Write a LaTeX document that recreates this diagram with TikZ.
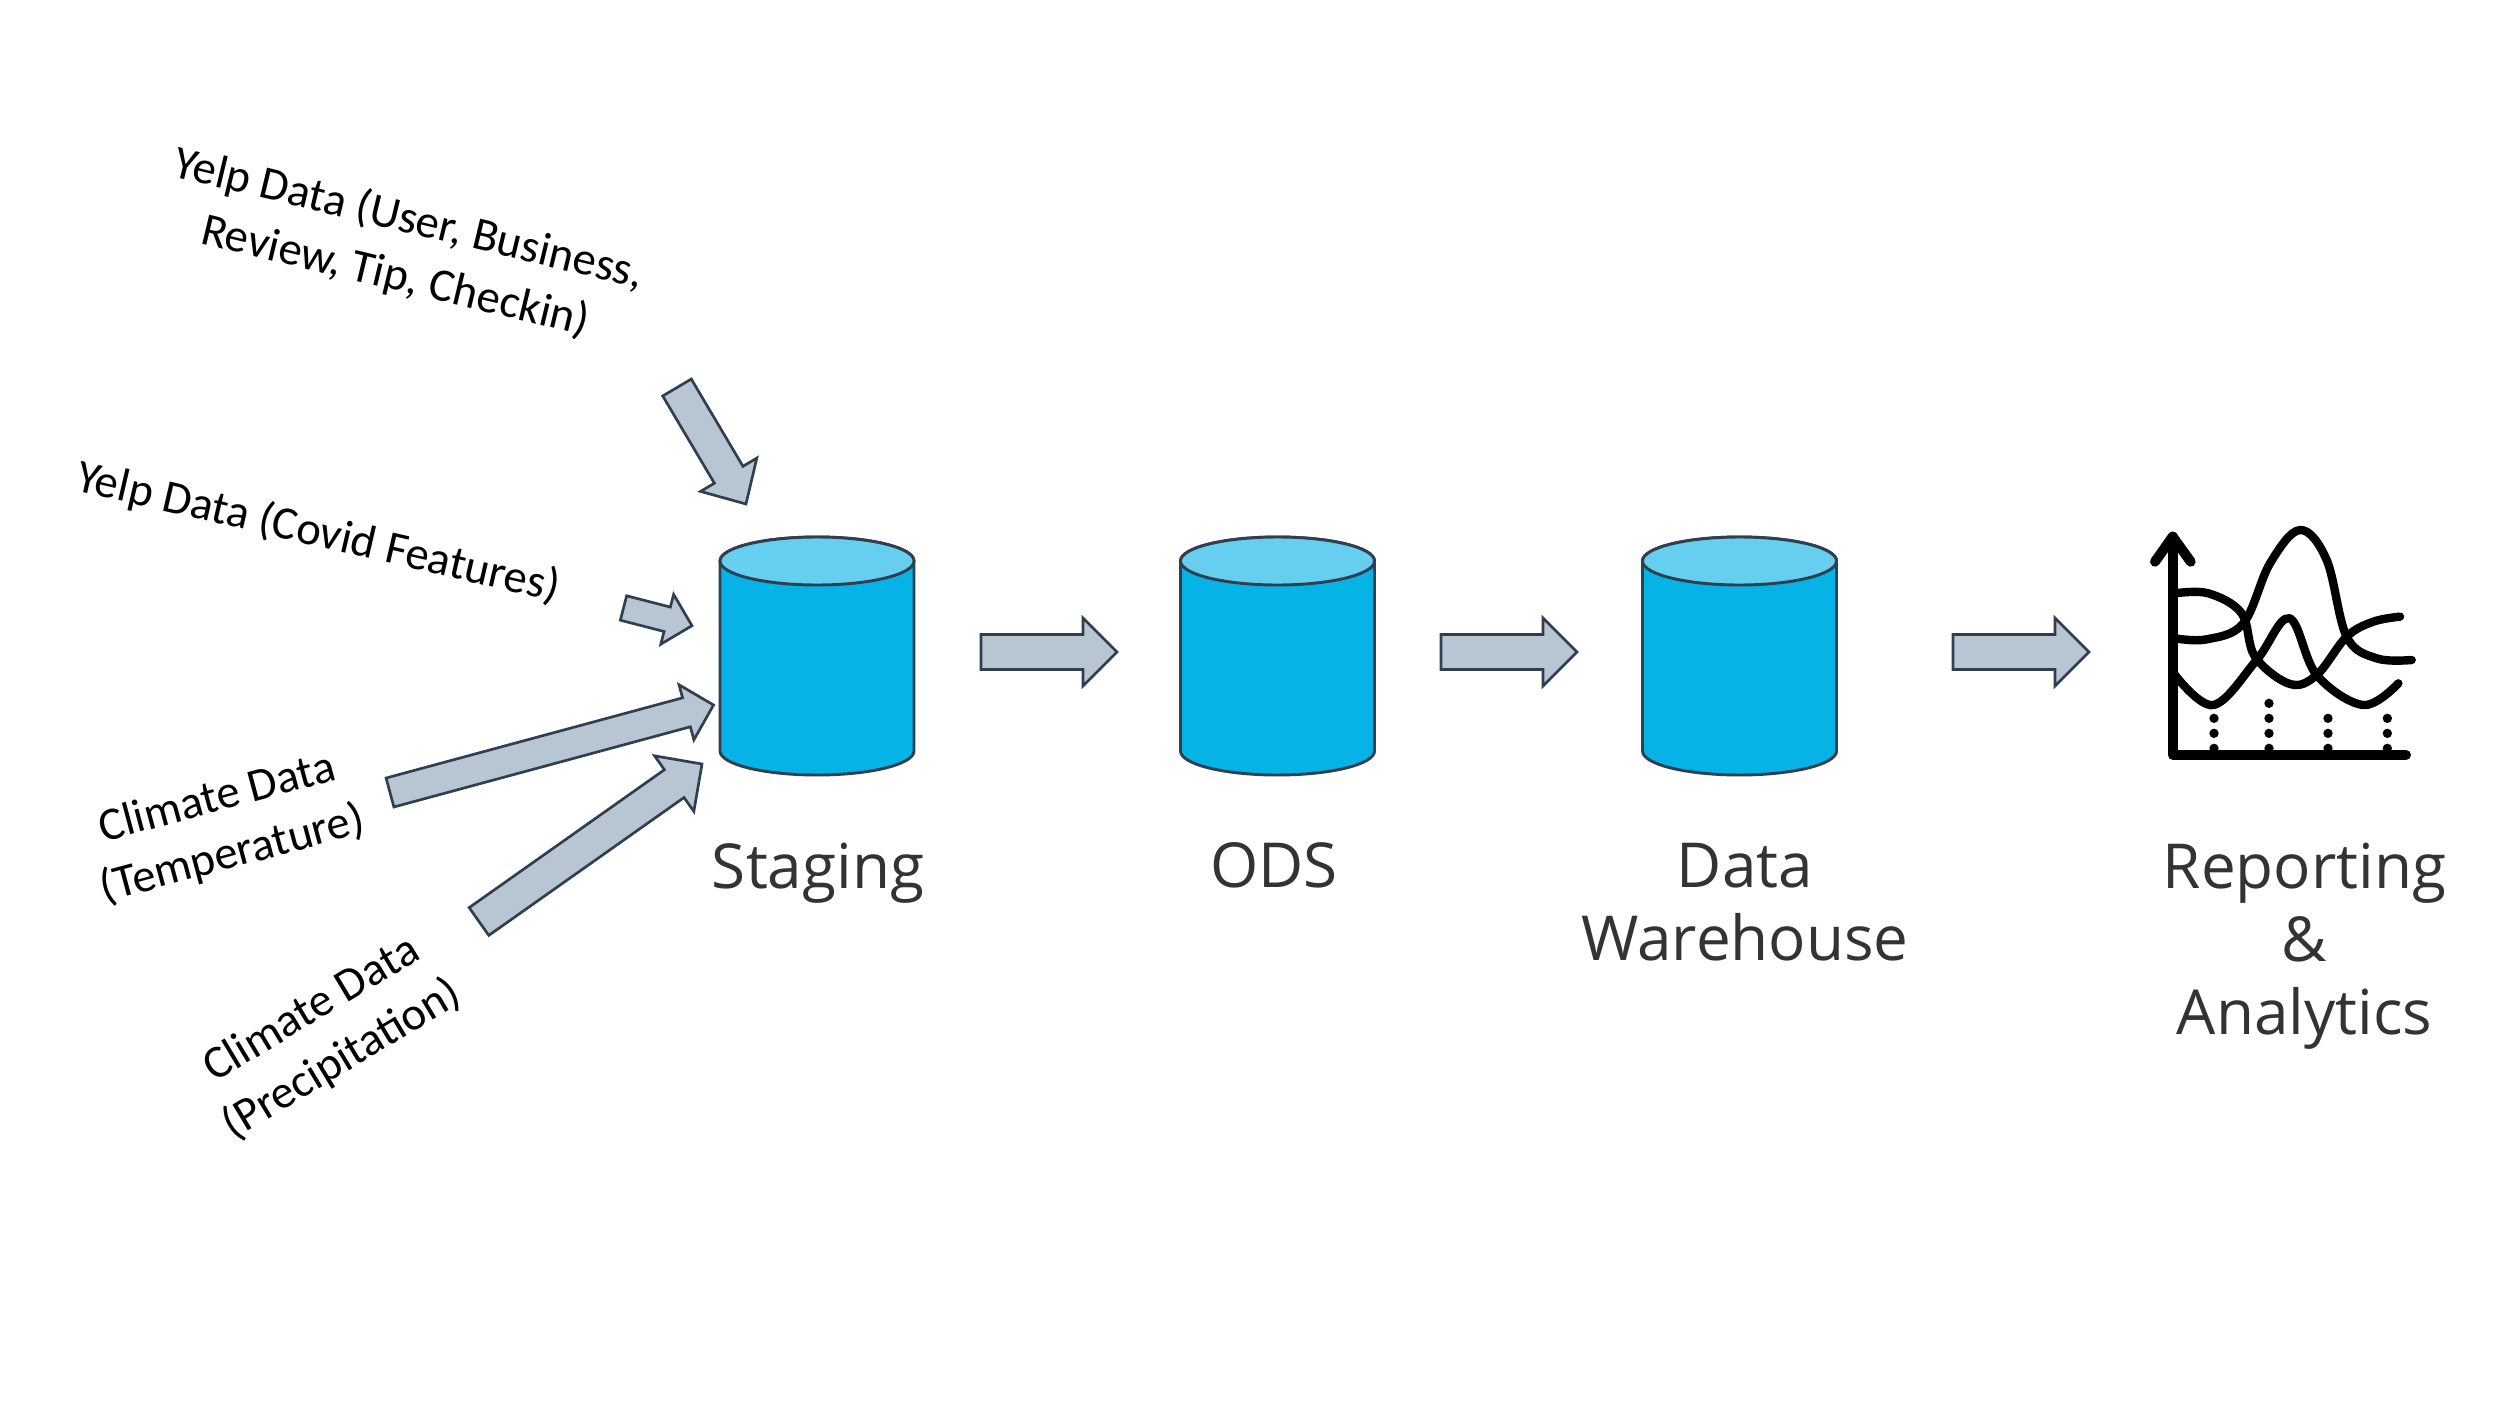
\documentclass[tikz,border=0pt]{standalone}
\usepackage{fontspec}
\setmainfont{Open Sans}
\newfontfamily\srcfont{Carlito}
\usetikzlibrary{calc}
\definecolor{cylside}{HTML}{05B3E6}
\definecolor{cyltop}{HTML}{66CFEF}
\definecolor{edgecol}{HTML}{2F3F4F}
\definecolor{arrowfill}{HTML}{B8C5D3}
\definecolor{labelcol}{HTML}{333333}
\tikzset{
  storebox/.style={shape=rectangle,minimum width=145.5pt,minimum height=178.5pt,inner sep=0pt,outer sep=0pt},
  storeside/.style={draw=edgecol,fill=cylside,line width=2.2pt},
  storetop/.style={draw=edgecol,fill=cyltop,line width=2.2pt},
  blockarrow/.style={draw=edgecol,fill=arrowfill,line width=2pt,line join=miter},
  stagelabel/.style={align=center,anchor=north,text=labelcol,font=\fontsize{46.5}{54.75}\selectfont,inner sep=0pt},
  srclabel/.style={align=center,text=black,font=\srcfont\fontsize{35}{44}\selectfont,inner sep=0pt},
  axisline/.style={line width=7.5pt,line cap=round,line join=round,black},
  wave/.style={line width=6.3pt,line cap=round,black},
}
\newcommand{\storecyl}[2]{%
  \node[storebox] (#1) at (#2,656) {};
  \draw[storeside] ($(#1.north west)+(0,24)$) -- ($(#1.south west)+(0,-24)$)
    arc[start angle=180,end angle=360,x radius=72.75pt,y radius=18pt]
    -- ($(#1.north east)+(0,24)$)
    arc[start angle=0,end angle=180,x radius=72.75pt,y radius=18pt] -- cycle;
  \draw[storetop] ($(#1.north)+(0,24)$) ellipse[x radius=72.75pt,y radius=18pt];
}
\newcommand{\blockarr}[5]{%
  \coordinate (tmpbase) at ($(#2)!#5*0.75pt!(#1)$);
  \draw[blockarrow]
    ($(#1)!#3*0.75pt!90:(#2)$) --
    ($(tmpbase)!#3*0.75pt!90:(#2)$) --
    ($(tmpbase)!#4*0.75pt!90:(#2)$) --
    (#2) --
    ($(tmpbase)!#4*0.75pt!-90:(#2)$) --
    ($(tmpbase)!#3*0.75pt!-90:(#2)$) --
    ($(#1)!#3*0.75pt!-90:(#2)$) -- cycle;
}
\begin{document}
\begin{tikzpicture}[x=0.75pt,y=-0.75pt]
\useasboundingbox[fill=white] (0,0) rectangle (2500,1406);
% stores
\storecyl{staging}{817}
\storecyl{ods}{1277.5}
\storecyl{dw}{1739.5}
% stage labels
\node[stagelabel] (lstaging) at (818,842.5) {Staging};
\node[stagelabel] (lods) at (1274,842.5) {ODS};
\node[stagelabel] (ldw) at (1745,842.5) {Data\\Warehouse};
\node[stagelabel] (lra) at (2304.5,842.5) {Reporting\\\&\\Analytics};
% source labels
\node[srclabel,rotate=-13.5] (s1) at (402,248) {Yelp Data (User, Business,\\Review, Tip, Checkin)};
\node[srclabel,rotate=-13] (s2) at (318,533) {Yelp Data (Covid Features)};
\node[srclabel,rotate=15] (s3) at (225,827) {Climate Data\\(Temperature)};
\node[srclabel,rotate=31] (s4) at (327,1035) {Climate Data\\(Precipitation)};
% block arrows
\coordinate (a1t) at (677,387.5);  \coordinate (a1h) at (746,504);
\coordinate (a2t) at (623.5,608); \coordinate (a2h) at (692,625.7);
\coordinate (a3t) at (390,792.5); \coordinate (a3h) at (713.5,705);
\coordinate (a4t) at (479,921.5); \coordinate (a4h) at (702,764);
\coordinate (a5t) at (981,652); \coordinate (a5h) at (1117,652);
\coordinate (a6t) at (1441,652); \coordinate (a6h) at (1577,652);
\coordinate (a7t) at (1953,652); \coordinate (a7h) at (2089,652);
\blockarr{a1t}{a1h}{16.6}{32.7}{34}
\blockarr{a2t}{a2h}{12.6}{25.7}{25.6}
\blockarr{a3t}{a3h}{15}{28.5}{28}
\blockarr{a4t}{a4h}{17}{34}{34}
\blockarr{a5t}{a5h}{17.5}{34}{34}
\blockarr{a6t}{a6h}{17.5}{34}{34}
\blockarr{a7t}{a7h}{17.5}{34}{34}
% analytics icon
\begin{scope}[shift={(2100,500)},x=0.25pt,y=-0.25pt]
  \draw[axisline] (165,185) -- (218,110) -- (272,185);
  \draw[axisline] (218,110) -- (218,765) -- (918,765);
  \draw[wave] plot[smooth,tension=0.6] coordinates {(225,280) (325,280) (425,340) (465,470) (570,552) (650,525) (740,410) (820,365) (900,350)};
  \draw[wave] plot[smooth,tension=0.6] coordinates {(225,415) (320,418) (430,370) (510,190) (600,90) (680,180) (740,410) (830,475) (935,480)};
  \draw[wave] plot[smooth,tension=0.6] coordinates {(225,525) (340,615) (470,480) (568,355) (650,525) (790,615) (895,550)};
  \foreach \dx in {342,507,684,862}{
    \foreach \dy in {655,700,745}{
      \fill[black] (\dx,\dy) circle[radius=14];
    }
  }
  \fill[black] (507,610) circle[radius=14];
\end{scope}
\end{tikzpicture}
\end{document}
